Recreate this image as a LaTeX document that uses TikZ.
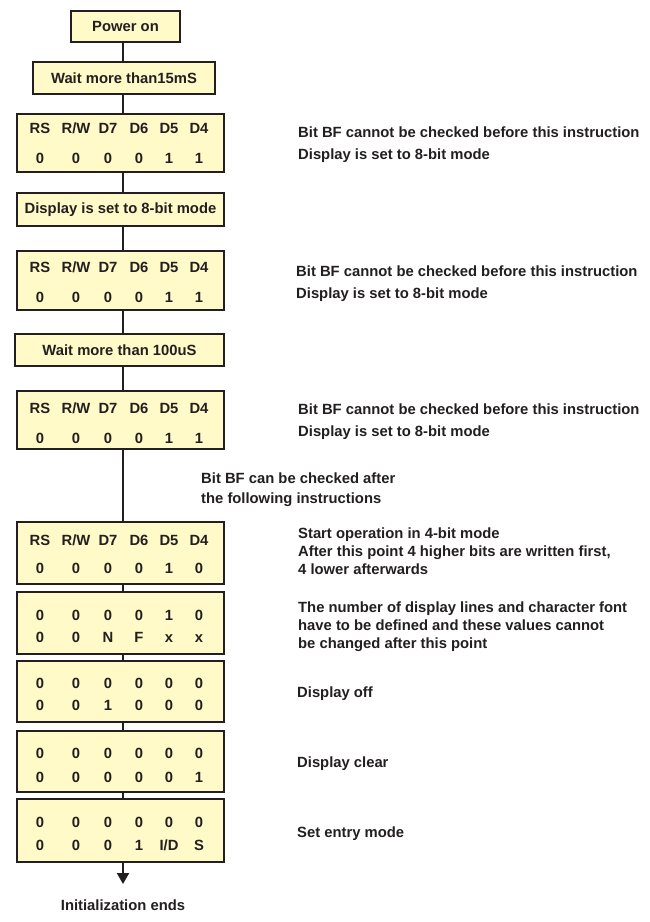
\documentclass[tikz,border=0pt]{standalone}
\usepackage{fontspec}
\setmainfont{Liberation Sans}
\usetikzlibrary{shadows,arrows.meta}
\definecolor{boxfill}{RGB}{255,250,200}
\definecolor{ink}{RGB}{35,31,32}
\definecolor{shade}{RGB}{140,140,140}
\newcommand\mkbox[6]{%
  \node[flowbox, minimum width={#4-#2-2.4}, minimum height={#5-#3-2.4}]
    (#1) at ({(#2+#4)/2},{(#3+#5)/2}) {#6};}
\newcommand\rowtxt[8]{%
  \node[cell] (#1a) at (40,#2+5.3) {#3};
  \node[cell] (#1b) at (76,#2+5.3) {#4};
  \node[cell] (#1c) at (108,#2+5.3) {#5};
  \node[cell] (#1d) at (139,#2+5.3) {#6};
  \node[cell] (#1e) at (169,#2+5.3) {#7};
  \node[cell] (#1f) at (199,#2+5.3) {#8};}
\begin{document}
\begin{tikzpicture}[x=1pt,y=-1pt,
  font=\fontsize{14.8}{18}\selectfont\bfseries,
  every node/.style={text=ink},
  flowbox/.style={draw=ink, line width=2.4pt, fill=boxfill, inner sep=0pt,
    drop shadow={shadow xshift=1.4pt, shadow yshift=-1.4pt, fill=shade, opacity=1}},
  cell/.style={anchor=base, inner sep=0pt},
  conn/.style={draw=ink, line width=2pt},
  note/.style={anchor=north west, align=left, inner sep=0pt},
  notea/.style={note, font=\fontsize{14.8}{22}\selectfont\bfseries},
  noteb/.style={note, font=\fontsize{14.8}{18}\selectfont\bfseries},
  notec/.style={note, font=\fontsize{14.8}{19.5}\selectfont\bfseries}]
\useasboundingbox[fill=white] (0,0) rectangle (650,922);
\coordinate (spine) at (123,0);

\mkbox{pw}{70}{10}{181}{43}{Power on}
\mkbox{wa}{32}{61}{216}{95}{Wait more than15mS}
\mkbox{ba}{16}{113}{225}{173}{}
\mkbox{ds}{16}{192}{225}{227}{Display is set to 8-bit mode}
\mkbox{bb}{16}{250}{225}{311}{}
\mkbox{wb}{14}{333}{225}{367}{Wait more than 100uS}
\mkbox{bc}{16}{390}{225}{450}{}
\mkbox{bd}{16}{521}{225}{585}{}
\mkbox{be}{16}{591}{225}{655}{}
\mkbox{bf}{16}{660}{225}{723}{}
\mkbox{bg}{16}{730}{225}{793}{}
\mkbox{bh}{16}{798}{225}{863}{}

\rowtxt{ra}{128}{RS}{R/W}{D7}{D6}{D5}{D4}
\rowtxt{rb}{158}{0}{0}{0}{0}{1}{1}
\rowtxt{rc}{267}{RS}{R/W}{D7}{D6}{D5}{D4}
\rowtxt{rd}{297}{0}{0}{0}{0}{1}{1}
\rowtxt{re}{408}{RS}{R/W}{D7}{D6}{D5}{D4}
\rowtxt{rf}{438}{0}{0}{0}{0}{1}{1}
\rowtxt{rg}{540}{RS}{R/W}{D7}{D6}{D5}{D4}
\rowtxt{rh}{568}{0}{0}{0}{0}{1}{0}
\rowtxt{ri}{615}{0}{0}{0}{0}{1}{0}
\rowtxt{rj}{637}{0}{0}{N}{F}{x}{x}
\rowtxt{rk}{683}{0}{0}{0}{0}{0}{0}
\rowtxt{rl}{705}{0}{0}{1}{0}{0}{0}
\rowtxt{rm}{753}{0}{0}{0}{0}{0}{0}
\rowtxt{rn}{777}{0}{0}{0}{0}{0}{1}
\rowtxt{ro}{822}{0}{0}{0}{0}{0}{0}
\rowtxt{rp}{845}{0}{0}{0}{1}{I/D}{S}

\draw[conn] (pw.south -| spine) -- (wa.north -| spine);
\draw[conn] (wa.south -| spine) -- (ba.north -| spine);
\draw[conn] (ba.south -| spine) -- (ds.north -| spine);
\draw[conn] (ds.south -| spine) -- (bb.north -| spine);
\draw[conn] (bb.south -| spine) -- (wb.north -| spine);
\draw[conn] (wb.south -| spine) -- (bc.north -| spine);
\draw[conn] (bc.south -| spine) -- (bd.north -| spine);
\draw[conn] (bd.south -| spine) -- (be.north -| spine);
\draw[conn] (be.south -| spine) -- (bf.north -| spine);
\draw[conn] (bf.south -| spine) -- (bg.north -| spine);
\draw[conn] (bg.south -| spine) -- (bh.north -| spine);
\coordinate (endpt) at (123,884);
\draw[conn, -{Triangle[width=12pt,length=11pt]}] (bh.south -| spine) -- (endpt);
\node[cell] (ends) at (123,910.3) {Initialization ends};

\node[notea] (na) at (298,126.7) {Bit BF cannot be checked before this instruction\\Display is set to 8-bit mode};
\node[notea] (nb) at (296,265.7) {Bit BF cannot be checked before this instruction\\Display is set to 8-bit mode};
\node[notea] (nc) at (298,403.7) {Bit BF cannot be checked before this instruction\\Display is set to 8-bit mode};
\node[notec] (nd) at (201,472.7) {Bit BF can be checked after\\the following instructions};
\node[noteb] (ne) at (298,527.7) {Start operation in 4-bit mode\\After this point 4 higher bits are written first,\\4 lower afterwards};
\node[noteb] (nf) at (298,601.7) {The number of display lines and character font\\have to be defined and these values cannot\\be changed after this point};
\node[note] (ng) at (297,686.7) {Display off};
\node[note] (nh) at (297,756.7) {Display clear};
\node[note] (ni) at (297,826.7) {Set entry mode};
\end{tikzpicture}
\end{document}
